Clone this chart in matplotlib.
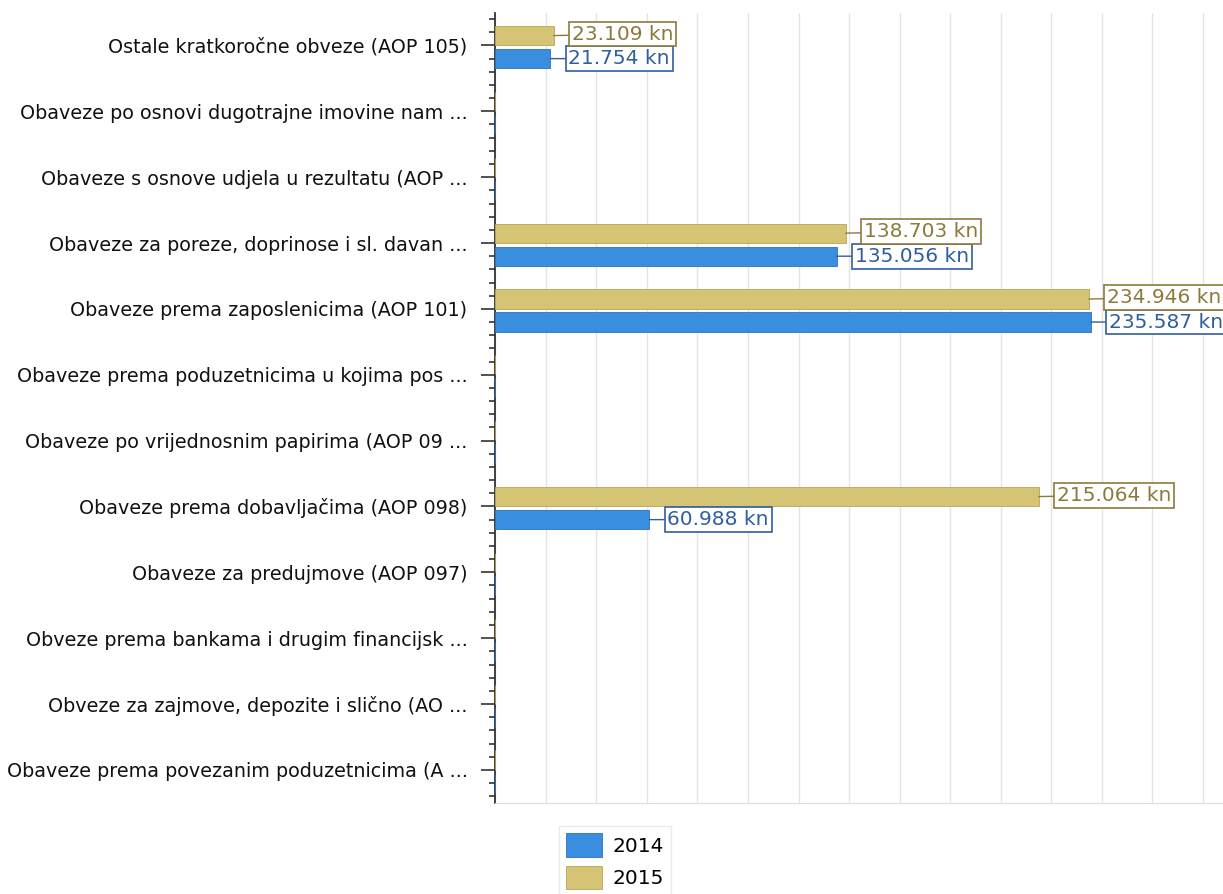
import matplotlib.pyplot as plt
from matplotlib.ticker import MultipleLocator, NullFormatter

categories = [
    "Ostale kratkoročne obveze (AOP 105)",
    "Obaveze po osnovi dugotrajne imovine nam ...",
    "Obaveze s osnove udjela u rezultatu (AOP ...",
    "Obaveze za poreze, doprinose i sl. davan ...",
    "Obaveze prema zaposlenicima (AOP 101)",
    "Obaveze prema poduzetnicima u kojima pos ...",
    "Obaveze po vrijednosnim papirima (AOP 09 ...",
    "Obaveze prema dobavljačima (AOP 098)",
    "Obaveze za predujmove (AOP 097)",
    "Obveze prema bankama i drugim financijsk ...",
    "Obveze za zajmove, depozite i slično (AO ...",
    "Obaveze prema povezanim poduzetnicima (A ...",
]
values_2014 = [21754, 0, 0, 135056, 235587, 0, 0, 60988, 0, 0, 0, 0]
values_2015 = [23109, 0, 0, 138703, 234946, 0, 0, 215064, 0, 0, 0, 0]
labels_2014 = ["21.754 kn", "", "", "135.056 kn", "235.587 kn", "", "", "60.988 kn", "", "", "", ""]
labels_2015 = ["23.109 kn", "", "", "138.703 kn", "234.946 kn", "", "", "215.064 kn", "", "", "", ""]

blue = "#3a8ee0"
gold = "#d6c475"
blue_text = "#2f5f9e"
gold_text = "#8c7a3c"

fig = plt.figure(figsize=(12.23, 8.94), dpi=100)
fig.set_facecolor("white")
ax = fig.add_axes([0.405, 0.102, 0.595, 0.884])

ypos = list(range(len(categories)))
bar_h = 0.29
off_15 = -0.15
off_14 = 0.2
ax.barh([y + off_15 for y in ypos], values_2015, height=bar_h, color=gold, edgecolor="#b9a552", linewidth=0.6, label="2015", zorder=3)
ax.barh([y + off_14 for y in ypos], values_2014, height=bar_h, color=blue, edgecolor="#2a72c4", linewidth=0.6, label="2014", zorder=3)

# value labels in boxes
for y, v, txt in zip(ypos, values_2015, labels_2015):
    if txt:
        ax.annotate(txt, xy=(v, y + off_15), xytext=(13, 1), textcoords="offset points",
                    ha="left", va="center", fontsize=14.5, color=gold_text,
                    bbox=dict(boxstyle="square,pad=0.14", fc="white", ec=gold_text, lw=1.2),
                    arrowprops=dict(arrowstyle="-", color=gold_text, lw=1.0, shrinkA=0, shrinkB=0),
                    annotation_clip=False, zorder=5)
for y, v, txt in zip(ypos, values_2014, labels_2014):
    if txt:
        ax.annotate(txt, xy=(v, y + off_14), xytext=(13, 0), textcoords="offset points",
                    ha="left", va="center", fontsize=14.5, color=blue_text,
                    bbox=dict(boxstyle="square,pad=0.14", fc="white", ec=blue_text, lw=1.2),
                    arrowprops=dict(arrowstyle="-", color=blue_text, lw=1.0, shrinkA=0, shrinkB=0),
                    annotation_clip=False, zorder=4)

ax.set_xlim(0, 288000)
ax.set_ylim(len(categories) - 0.5, -0.5)
ax.set_yticks(ypos)
ax.set_yticklabels(categories, fontsize=13.8, color="#111111")
ax.yaxis.set_minor_locator(MultipleLocator(0.2))
ax.yaxis.set_minor_formatter(NullFormatter())
ax.tick_params(axis="y", which="major", length=10, width=1.2, color="#333333", pad=10)
ax.tick_params(axis="y", which="minor", length=4, width=1.2, color="#333333")
ax.xaxis.set_major_locator(MultipleLocator(20000))
ax.tick_params(axis="x", which="both", length=0, labelbottom=False)
ax.grid(True, axis="x", color="#e4e4e4", linewidth=1.0, zorder=0)

ax.spines["top"].set_visible(False)
ax.spines["right"].set_visible(False)
ax.spines["left"].set_color("#333333")
ax.spines["left"].set_linewidth(1.3)
ax.spines["bottom"].set_color("#dddddd")

handles, labels = ax.get_legend_handles_labels()
leg = fig.legend(handles[::-1], labels[::-1], loc="upper left", bbox_to_anchor=(0.449, 0.087),
                 bbox_transform=fig.transFigure, fontsize=14.5, frameon=True, fancybox=False,
                 edgecolor="#e6e6e6", handlelength=1.8, handleheight=1.4, labelspacing=0.45,
                 borderpad=0.35, handletextpad=0.5)

plt.savefig("out.png", dpi=100, facecolor="white")
plt.close()
